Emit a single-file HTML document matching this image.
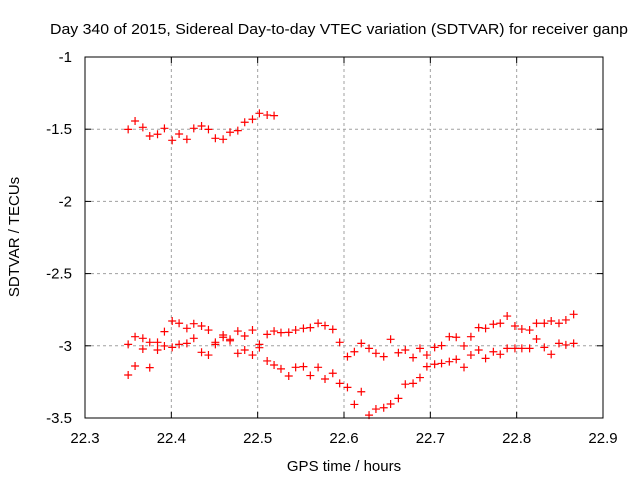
<!DOCTYPE html>
<html><head><meta charset="utf-8"><style>
body{margin:0;background:#fff;}
svg{display:block;font-family:"Liberation Sans",sans-serif;}
</style></head><body>
<svg id="chart" width="640" height="480" viewBox="0 0 640 480" xmlns="http://www.w3.org/2000/svg">
<rect width="640" height="480" fill="#fff"/>
<text x="50" y="34" font-size="15" textLength="578" lengthAdjust="spacingAndGlyphs" fill="#000">Day 340 of 2015, Sidereal Day-to-day VTEC variation (SDTVAR) for receiver ganp</text>
<text transform="translate(19,237) rotate(-90)" text-anchor="middle" font-size="15" fill="#000">SDTVAR / TECUs</text>
<text x="344" y="471" text-anchor="middle" font-size="15" fill="#000">GPS time / hours</text>
<g id="grid"></g><g id="ticks"></g><g id="marks"></g>
<rect x="85" y="57" width="518" height="361" fill="none" stroke="#000" stroke-width="1"/>
</svg>
<script>
const xTicks=[22.3,22.4,22.5,22.6,22.7,22.8,22.9];
const xTickLabels=["22.3","22.4","22.5","22.6","22.7","22.8","22.9"];
const yTicks=[-1,-1.5,-2,-2.5,-3,-3.5];
const yTickLabels=["-1","-1.5","-2","-2.5","-3","-3.5"];
const times=[22.350,22.358,22.367,22.375,22.384,22.392,22.401,22.409,22.418,22.426,22.435,22.443,22.451,22.460,22.468,22.477,22.485,22.494,22.502,22.511,22.519,22.527,22.536,22.544,22.553,22.561,22.570,22.578,22.587,22.595,22.604,22.612,22.620,22.629,22.637,22.646,22.654,22.663,22.671,22.680,22.688,22.696,22.705,22.713,22.722,22.730,22.739,22.747,22.756,22.764,22.773,22.781,22.789,22.798,22.806,22.815,22.823,22.832,22.840,22.849,22.857,22.866];
const topSeries=[-1.501,-1.443,-1.487,-1.547,-1.535,-1.494,-1.577,-1.533,-1.570,-1.494,-1.478,-1.501,-1.563,-1.570,-1.521,-1.510,-1.452,-1.431,-1.390,-1.402,-1.406];
const upperSeries=[-2.990,-2.937,-2.948,-2.976,-2.976,-2.902,-2.828,-2.844,-2.879,-2.847,-2.863,-2.891,-2.976,-2.925,-2.955,-2.898,-2.932,-2.891,-2.990,-2.921,-2.898,
-2.909,-2.907,-2.891,-2.879,-2.874,-2.844,-2.860,-2.886,-2.976,-3.075,-3.041,-2.983,-3.018,-3.052,-3.075,-2.955,-3.048,-3.029,-3.082,-3.018,-3.064,-3.011,
-2.999,-2.937,-2.941,-3.001,-2.937,-2.874,-2.879,-2.851,-2.844,-2.794,-2.863,-2.884,-2.891,-2.844,-2.844,-2.828,-2.844,-2.821,-2.782];
const lowerSeries=[-3.202,-3.140,-3.022,-3.151,-3.029,-3.001,-3.011,-2.990,-2.983,-2.948,-3.045,-3.064,-2.990,-2.941,-2.965,-3.052,-3.029,-3.064,-3.013,-3.105,-3.133,
-3.160,-3.209,-3.149,-3.144,-3.206,-3.149,-3.230,-3.190,-3.260,-3.288,-3.406,-3.318,-3.480,-3.438,-3.429,-3.403,-3.364,-3.266,-3.260,-3.220,-3.144,-3.128,
-3.122,-3.110,-3.094,-3.149,-3.064,-3.029,-3.087,-3.041,-3.059,-3.018,-3.018,-3.018,-3.018,-2.953,-3.011,-3.059,-2.983,-2.994,-2.983];

const NS="http://www.w3.org/2000/svg";
const X0=85,X1=603,Y0=57,Y1=418;
function xs(v){return X0+(v-22.3)/(22.9-22.3)*(X1-X0);}
function ys(v){return Y0+(-1-v)/(2.5)*(Y1-Y0);}
function mk(tag,attrs,parent){const e=document.createElementNS(NS,tag);for(const k in attrs)e.setAttribute(k,attrs[k]);parent.appendChild(e);return e;}
const grid=document.getElementById('grid'),ticks=document.getElementById('ticks'),marks=document.getElementById('marks');
xTicks.forEach((t,i)=>{
  const x=xs(t);
  if(i>0&&i<xTicks.length-1){
    const g=mk('line',{x1:x,x2:x,y1:Y0,y2:Y1,stroke:'#a0a0a0','stroke-dasharray':'3,3','stroke-width':1},grid);
    
    
  }
  mk('line',{x1:x,x2:x,y1:Y1,y2:Y1-6,stroke:'#000'},ticks);
  mk('line',{x1:x,x2:x,y1:Y0,y2:Y0+6,stroke:'#000'},ticks);
  const tx=mk('text',{x:x,y:443,'text-anchor':'middle','font-size':15},ticks);
  tx.textContent=xTickLabels[i];
  
  
});
yTicks.forEach((t,i)=>{
  const y=ys(t);
  if(i>0&&i<yTicks.length-1){
    const g=mk('line',{x1:X0,x2:X1,y1:y,y2:y,stroke:'#a0a0a0','stroke-dasharray':'3,3','stroke-width':1},grid);
    
    
  }
  mk('line',{x1:X0,x2:X0+6,y1:y,y2:y,stroke:'#000'},ticks);
  mk('line',{x1:X1,x2:X1-6,y1:y,y2:y,stroke:'#000'},ticks);
  const tx=mk('text',{x:72,y:y+5,'text-anchor':'end','font-size':15},ticks);
  tx.textContent=yTickLabels[i];
  
  
});
function cross(x,y){
  const p=mk('path',{d:`M${x-4},${y}H${x+4}M${x},${y-4}V${y+4}`,stroke:'#f00','stroke-width':1.2,fill:'none'},marks);
  
  
}
topSeries.forEach((v,i)=>cross(xs(times[i]),ys(v)));
upperSeries.forEach((v,i)=>cross(xs(times[i]),ys(v)));
lowerSeries.forEach((v,i)=>cross(xs(times[i]),ys(v)));
</script>
</body></html>
